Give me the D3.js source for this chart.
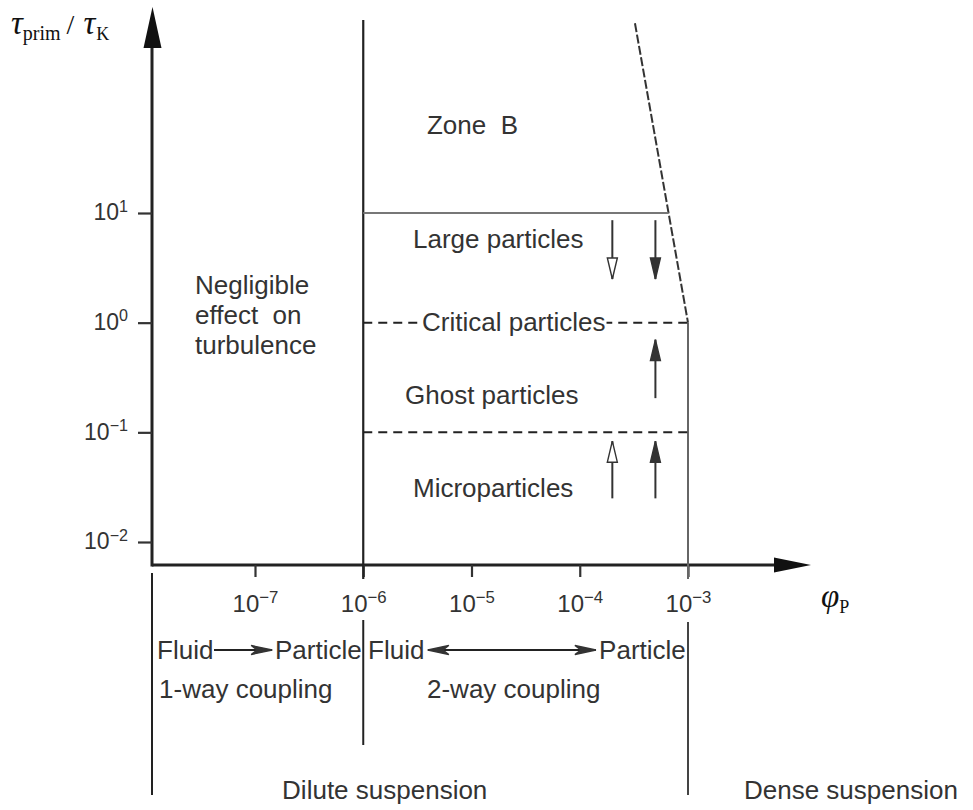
<!DOCTYPE html>
<html>
<head>
<meta charset="utf-8">
<script src="https://cdn.jsdelivr.net/npm/d3@7"></script>
<style>
body { margin: 0; background: #fff; }
svg { display: block; }
text { font-family: "Liberation Sans", Arial, Helvetica, sans-serif; fill: #333; white-space: pre; }
.serif { font-family: "Liberation Serif", "Times New Roman", serif; fill: #111; }
</style>
</head>
<body>
<svg id="chart" width="973" height="810"></svg>
<script>
// ticks on both axes
const xTicks = [1e-7, 1e-6, 1e-5, 1e-4, 1e-3];
const yTicks = [1e-2, 1e-1, 1e0, 1e1];

// regime boundaries (particle volume fraction)
const phiDiluteStart = 1e-6;
const phiDense = 1e-3;
const tauTopOfBoundary = 10 ** 2.76;   // where the 10^-6 line ends at the top

// horizontal levels of tau_prim / tau_K
const levelTau = [10, 1, 0.1];
const levelDashed = [false, true, true];

// slanted limit of zone B : [phi, tau]
const limitPhi = [10 ** -3.49, 1e-3];
const limitTau = [10 ** 2.73, 1];

// vertical arrows inside zone : phi, tau from, tau to, open head?
const arrowPhi = [2e-4, 5e-4, 5e-4, 2e-4, 5e-4];
const arrowFrom = [8.6, 8.6, 0.205, 0.025, 0.025];
const arrowTo = [2.5, 2.5, 0.7, 0.083, 0.083];
const arrowOpen = [true, false, false, true, false];

// labels inside the diagram : text, phi, tau (start / baseline)
const zoneText = ["Zone  B", "Large particles", "Critical particles", "Ghost particles", "Microparticles",
                  "Negligible", "effect  on", "turbulence"];
const zonePhi = [3.88e-6, 2.88e-6, 3.49e-6, 2.43e-6, 2.88e-6, 2.79e-8, 2.79e-8, 2.79e-8];
const zoneTau = [52.7, 4.8, 0.84, 0.18, 0.0258, 1.83, 0.973, 0.518];

// labels under the axis : text, phi, row
const bottomText = ["Fluid", "Particle", "Fluid", "Particle", "1-way coupling", "2-way coupling",
                    "Dilute suspension", "Dense suspension"];
const bottomPhi = [1.245e-8, 1.53e-7, 1.107e-6, 1.51e-4, 1.3e-8, 3.88e-6, 1.78e-7, 3.29e-3];
const bottomRow = [0, 0, 0, 0, 1, 1, 2, 2];

// coupling arrows under the axis : phi from, phi to, two heads?
const couplingFrom = [4.18e-8, 3.95e-6];
const couplingTo = [1.44e-7, 1.41e-4];
const couplingBoth = [false, true];

const svg = d3.select("#chart");

// scales
const x = d3.scaleLog().domain([1e-7, 1e-3]).range([255, 688]);
const y = d3.scaleLog().domain([1e-2, 1e1]).range([542, 213]);

const x0 = 152, y0 = 565;           // axis origin
const xAxisEnd = 811, yAxisEnd = 7;
const rowY = [659, 698, 799];        // baselines of the text rows under the axis
const lineCol = "#333";
const fs = 26;

// arrow heads
const defs = svg.append("defs");
function marker(id, fill, path) {
	defs.append("marker")
		.attr("id", id)
		.attr("viewBox", "-1 -1 24 14")
		.attr("refX", 21).attr("refY", 6)
		.attr("markerWidth", 24).attr("markerHeight", 14)
		.attr("markerUnits", "userSpaceOnUse")
		.attr("orient", "auto-start-reverse")
		.append("path")
		.attr("d", path)
		.attr("fill", fill)
		.attr("stroke", lineCol)
		.attr("stroke-width", 1.4)
		.attr("stroke-linejoin", "miter");
}
marker("headFill", lineCol, "M0,1 L21,6 L0,11 Z");
marker("headOpen", "#fff", "M0,1 L21,6 L0,11 Z");
marker("headSwept", lineCol, "M0,1.5 L21,6 L0,10.5 L6,6 Z");

// axes lines with big heads
svg.append("line")
	.attr("x1", x0).attr("y1", y0).attr("x2", xAxisEnd - 30).attr("y2", y0)
	.attr("stroke", "#222").attr("stroke-width", 3);
svg.append("path")
	.attr("d", `M${xAxisEnd},${y0} L${xAxisEnd - 37},${y0 - 7.5} L${xAxisEnd - 37},${y0 + 7.5} Z`)
	.attr("fill", "#111");
svg.append("line")
	.attr("x1", x0).attr("y1", y0 + 1.5).attr("x2", x0).attr("y2", yAxisEnd + 35)
	.attr("stroke", "#222").attr("stroke-width", 3);
svg.append("path")
	.attr("d", `M${x0 + 0.5},${yAxisEnd} L${x0 - 8.5},${yAxisEnd + 41} L${x0 + 9.5},${yAxisEnd + 41} Z`)
	.attr("fill", "#111");

// tick label as 10 with a raised exponent
function powLabel(sel) {
	sel.each(function(d) {
		const e = Math.round(Math.log10(d));
		const t = d3.select(this).text(null);
		t.append("tspan").text("10");
		t.append("tspan")
			.attr("dy", "-0.55em")
			.attr("font-size", "0.7em")
			.text(e < 0 ? "\u2212" + (-e) : e);
	});
}

const gy = svg.append("g")
	.attr("transform", `translate(${x0},0)`)
	.call(d3.axisLeft(y).tickValues(yTicks).tickSize(14).tickPadding(10));
gy.select(".domain").remove();
gy.selectAll(".tick line").attr("stroke", lineCol).attr("stroke-width", 2.2);
gy.selectAll(".tick text")
	.attr("font-size", 23).attr("fill", "#333")
	.attr("font-family", "Liberation Sans, Arial, sans-serif")
	.attr("dy", "0.3em")
	.call(powLabel);

const gx = svg.append("g")
	.attr("transform", `translate(0,${y0})`)
	.call(d3.axisBottom(x).tickValues(xTicks).tickSize(12).tickPadding(18));
gx.select(".domain").remove();
gx.selectAll(".tick line").attr("stroke", lineCol).attr("stroke-width", 2.2);
gx.selectAll(".tick text")
	.attr("font-size", 24).attr("fill", "#333")
	.attr("font-family", "Liberation Sans, Arial, sans-serif")
	.call(powLabel);

// axis titles
const yt = svg.append("text").attr("class", "serif").attr("x", 11).attr("y", 34).attr("font-size", 33);
yt.append("tspan").attr("font-style", "italic").text("\u03c4");
yt.append("tspan").attr("font-size", 20).attr("dy", 6).text("prim");
yt.append("tspan").attr("font-size", 28).attr("dy", -6).attr("dx", 6).text("/");
yt.append("tspan").attr("font-style", "italic").attr("dx", 9).text("\u03c4");
yt.append("tspan").attr("font-size", 18).attr("dy", 6).attr("dx", 1).text("K");

const xt = svg.append("text").attr("class", "serif").attr("x", 821).attr("y", 607).attr("font-size", 33);
xt.append("tspan").attr("font-style", "italic").text("\u03c6");
xt.append("tspan").attr("font-size", 18).attr("dy", 6).text("P");

// regime boundaries
svg.append("line")
	.attr("x1", x(phiDiluteStart)).attr("x2", x(phiDiluteStart))
	.attr("y1", y(tauTopOfBoundary)).attr("y2", y0 + 14)
	.attr("stroke", "#222").attr("stroke-width", 2.2);
svg.append("line")
	.attr("x1", x(phiDense)).attr("x2", x(phiDense))
	.attr("y1", y(1)).attr("y2", y0 + 14)
	.attr("stroke", "#666").attr("stroke-width", 2);

// the same boundaries continued below the tick labels
const lowLines = [
	{px: x0, from: y0 + 8, to: 795, col: "#222"},
	{px: x(phiDiluteStart), from: 620, to: 745, col: "#222"},
	{px: x(phiDense), from: 622, to: 795, col: "#444"}
];
svg.selectAll(".low").data(lowLines).enter().append("line")
	.attr("x1", d => d.px).attr("x2", d => d.px)
	.attr("y1", d => d.from).attr("y2", d => d.to)
	.attr("stroke", d => d.col).attr("stroke-width", 2);

// slanted upper limit (dashed)
const limit = d3.zip(limitPhi, limitTau);
svg.append("path")
	.datum(limit)
	.attr("d", d3.line().x(d => x(d[0])).y(d => y(d[1])))
	.attr("fill", "none").attr("stroke", "#333").attr("stroke-width", 2)
	.attr("stroke-dasharray", "9 2.5");

// phi where the slanted line meets a given tau
function limitAt(tau) {
	const t = (Math.log10(tau) - Math.log10(limitTau[0])) / (Math.log10(limitTau[1]) - Math.log10(limitTau[0]));
	return 10 ** (Math.log10(limitPhi[0]) + t * (Math.log10(limitPhi[1]) - Math.log10(limitPhi[0])));
}

svg.selectAll(".level").data(levelTau).enter().append("line")
	.attr("x1", x(phiDiluteStart))
	.attr("x2", d => x(Math.min(phiDense, limitAt(d))))
	.attr("y1", d => y(d)).attr("y2", d => y(d))
	.attr("stroke", (d, i) => levelDashed[i] ? "#222" : "#777")
	.attr("stroke-width", 2)
	.attr("stroke-dasharray", (d, i) => levelDashed[i] ? "9 6" : null);

// arrows in the zone
const arrowData = arrowPhi.map((p, i) => ({phi: p, from: arrowFrom[i], to: arrowTo[i], open: arrowOpen[i]}));
svg.selectAll(".arr").data(arrowData).enter().append("line")
	.attr("x1", d => x(d.phi)).attr("x2", d => x(d.phi))
	.attr("y1", d => y(d.from)).attr("y2", d => y(d.to))
	.attr("stroke", lineCol).attr("stroke-width", 2)
	.attr("marker-end", d => d.open ? "url(#headOpen)" : "url(#headFill)");

// zone labels (white box under "Critical particles" breaks the dashed line)
const zoneData = zoneText.map((t, i) => ({t: t, phi: zonePhi[i], tau: zoneTau[i]}));
const zl = svg.selectAll(".zl").data(zoneData).enter().append("g");
zl.append("text")
	.attr("x", d => x(d.phi)).attr("y", d => y(d.tau))
	.attr("font-size", fs)
	.text(d => d.t);
zl.filter(d => d.t.startsWith("Critical")).each(function() {
	const g = d3.select(this);
	const b = g.select("text").node().getBBox();
	g.insert("rect", "text")
		.attr("x", b.x - 2).attr("y", b.y).attr("width", b.width + 3).attr("height", b.height)
		.attr("fill", "#fff");
});

// labels under the axis
const bottomData = bottomText.map((t, i) => ({t: t, phi: bottomPhi[i], row: bottomRow[i]}));
svg.selectAll(".bl").data(bottomData).enter().append("text")
	.attr("x", d => x(d.phi)).attr("y", d => rowY[d.row])
	.attr("font-size", fs)
	.text(d => d.t);

const couplingData = couplingFrom.map((f, i) => ({from: f, to: couplingTo[i], both: couplingBoth[i]}));
svg.selectAll(".cpl").data(couplingData).enter().append("line")
	.attr("x1", d => x(d.from)).attr("x2", d => x(d.to))
	.attr("y1", rowY[0] - 9).attr("y2", rowY[0] - 9)
	.attr("stroke", "#222").attr("stroke-width", 2)
	.attr("marker-end", "url(#headSwept)")
	.attr("marker-start", d => d.both ? "url(#headSwept)" : null);
</script>
</body>
</html>
